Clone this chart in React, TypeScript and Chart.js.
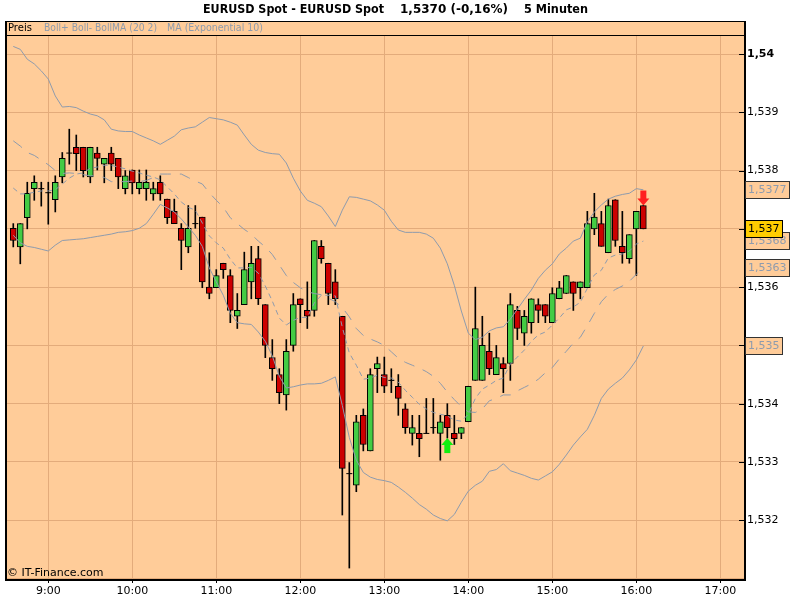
import React, { useEffect, useRef } from "react";
import { Chart, registerables } from "chart.js";

Chart.register(...registerables);

// ---------- data ----------
const times = [
  "8:35", "8:40", "8:45", "8:50", "8:55",
  "9:00", "9:05", "9:10", "9:15", "9:20", "9:25", "9:30", "9:35", "9:40", "9:45", "9:50", "9:55",
  "10:00", "10:05", "10:10", "10:15", "10:20", "10:25", "10:30", "10:35", "10:40", "10:45", "10:50", "10:55",
  "11:00", "11:05", "11:10", "11:15", "11:20", "11:25", "11:30", "11:35", "11:40", "11:45", "11:50", "11:55",
  "12:00", "12:05", "12:10", "12:15", "12:20", "12:25", "12:30", "12:35", "12:40", "12:45", "12:50", "12:55",
  "13:00", "13:05", "13:10", "13:15", "13:20", "13:25", "13:30", "13:35", "13:40", "13:45", "13:50", "13:55",
  "14:00", "14:05", "14:10", "14:15", "14:20", "14:25", "14:30", "14:35", "14:40", "14:45", "14:50", "14:55",
  "15:00", "15:05", "15:10", "15:15", "15:20", "15:25", "15:30", "15:35", "15:40", "15:45", "15:50", "15:55",
  "16:00", "16:05",
];

const opens = [
  1.53701, 1.53669, 1.53719, 1.53769, 1.53769, 1.53762, 1.5375, 1.53789, 1.5383, 1.5384,
  1.5384, 1.53789, 1.5383, 1.53811, 1.5383, 1.53821, 1.53769, 1.53801, 1.53769, 1.53769,
  1.5376, 1.5378, 1.53751, 1.5373, 1.53701, 1.53669, 1.53709, 1.5372, 1.536, 1.53599,
  1.53641, 1.5362, 1.5355, 1.5357, 1.53609, 1.53649, 1.5357, 1.53479, 1.5345, 1.53415,
  1.535, 1.5358, 1.5356, 1.5356, 1.5367, 1.53641, 1.53609, 1.5355, 1.5328, 1.5326,
  1.5338, 1.53319, 1.5346, 1.5345, 1.5344, 1.5343, 1.53391, 1.53349, 1.53349, 1.53349,
  1.53359, 1.53349, 1.5338, 1.53349, 1.53349, 1.53369, 1.5344, 1.5344, 1.5349, 1.5345,
  1.53469, 1.53469, 1.5356, 1.53521, 1.53539, 1.5357, 1.5357, 1.53539, 1.5358, 1.53589,
  1.53609, 1.53599, 1.53599, 1.537, 1.53709, 1.53659, 1.5375, 1.5367, 1.53649, 1.537,
  1.5374,
];

const highs = [
  1.53709, 1.53709, 1.5378, 1.53791, 1.5378, 1.5378, 1.53791, 1.53831, 1.53871, 1.53861,
  1.5384, 1.5384, 1.5384, 1.53821, 1.5384, 1.53821, 1.538, 1.53801, 1.53801, 1.53801,
  1.5378, 1.53791, 1.53751, 1.53751, 1.53709, 1.5374, 1.5374, 1.5372, 1.53659, 1.5363,
  1.53641, 1.5363, 1.53589, 1.5366, 1.5367, 1.5367, 1.5357, 1.5351, 1.5346, 1.5351,
  1.53589, 1.5358, 1.53609, 1.5368, 1.5368, 1.53641, 1.5363, 1.5355, 1.53299, 1.5338,
  1.53391, 1.5346, 1.5348, 1.5348, 1.5346, 1.5345, 1.534, 1.5338, 1.5338, 1.53409,
  1.53409, 1.5338, 1.534, 1.5338, 1.53359, 1.5343, 1.536, 1.5355, 1.53521, 1.535,
  1.53479, 1.53589, 1.53567, 1.5356, 1.5358, 1.5358, 1.5357, 1.53599, 1.5361, 1.5362,
  1.53609, 1.53609, 1.5373, 1.53761, 1.5373, 1.53751, 1.5375, 1.5373, 1.5369, 1.5373,
  1.5374,
];

const lows = [
  1.53669, 1.5364, 1.537, 1.53749, 1.53739, 1.53708, 1.53729, 1.53779, 1.53811, 1.538,
  1.53789, 1.53779, 1.53801, 1.53779, 1.538, 1.53769, 1.5376, 1.5376, 1.5376, 1.53749,
  1.53749, 1.53749, 1.53709, 1.53709, 1.5363, 1.53659, 1.53701, 1.53599, 1.5358, 1.53599,
  1.53615, 1.53539, 1.53529, 1.5357, 1.5358, 1.5357, 1.53479, 1.5344, 1.534, 1.53389,
  1.5349, 1.53539, 1.53529, 1.5355, 1.53641, 1.5357, 1.5357, 1.53209, 1.53118, 1.53249,
  1.53319, 1.53319, 1.53419, 1.53419, 1.53419, 1.5338, 1.53349, 1.53329, 1.53309, 1.53349,
  1.53349, 1.53303, 1.53341, 1.5333, 1.5334, 1.53369, 1.5344, 1.5344, 1.5345, 1.5345,
  1.53419, 1.5344, 1.5351, 1.535, 1.53521, 1.53539, 1.53539, 1.53539, 1.5358, 1.53589,
  1.5356, 1.5358, 1.53599, 1.5369, 1.5367, 1.53659, 1.5367, 1.53641, 1.53641, 1.5362,
  1.537,
];

const closes = [
  1.5368, 1.53709, 1.53761, 1.5378, 1.53769, 1.53762, 1.5378, 1.53821, 1.5383, 1.53829,
  1.538, 1.5384, 1.53821, 1.53821, 1.53811, 1.53789, 1.53791, 1.53779, 1.5378, 1.5378,
  1.53769, 1.5376, 1.53719, 1.53709, 1.5368, 1.53701, 1.53709, 1.53609, 1.53589, 1.5362,
  1.5363, 1.5356, 1.5356, 1.5363, 1.53641, 1.5358, 1.535, 1.5346, 1.53419, 1.5349,
  1.5357, 1.5357, 1.5355, 1.5368, 1.53649, 1.53589, 1.5358, 1.53289, 1.5328, 1.53369,
  1.5333, 1.5345, 1.53469, 1.5343, 1.5344, 1.53409, 1.53359, 1.53359, 1.5334, 1.53349,
  1.53359, 1.53369, 1.53359, 1.5334, 1.53359, 1.5343, 1.53529, 1.535, 1.5346, 1.53479,
  1.5346, 1.5357, 1.53529, 1.5355, 1.5358, 1.5356, 1.5355, 1.53589, 1.53599, 1.5362,
  1.53589, 1.53609, 1.53709, 1.5372, 1.5367, 1.5374, 1.5368, 1.53659, 1.5369, 1.5373,
  1.537,
];

const bollUpper = [
  1.54013, 1.54008, 1.53991, 1.53983, 1.53971, 1.53957, 1.53928, 1.53909, 1.5391, 1.53908,
  1.53902, 1.53897, 1.53894, 1.53887, 1.53871, 1.53868, 1.53867, 1.53867, 1.53861, 1.53856,
  1.53851, 1.53845, 1.53852, 1.53859, 1.5387, 1.53873, 1.53875, 1.53883, 1.53891, 1.53889,
  1.53887, 1.53883, 1.53878, 1.53861, 1.53845, 1.53835, 1.53831, 1.53829, 1.53828, 1.53813,
  1.53787, 1.53765, 1.53749, 1.53744, 1.53738, 1.53722, 1.53704, 1.53732, 1.53755, 1.53754,
  1.53751, 1.53748, 1.53741, 1.53732, 1.53713, 1.53698, 1.53694, 1.53694, 1.53694, 1.53691,
  1.53684, 1.53667, 1.5364, 1.53603, 1.53559, 1.53521, 1.5351, 1.53514, 1.53525, 1.5353,
  1.53532, 1.53545, 1.53562, 1.53579, 1.53595, 1.53615, 1.53629, 1.5364, 1.53657, 1.53667,
  1.53679, 1.53684, 1.53712, 1.53729, 1.53741, 1.53751, 1.53756, 1.53759, 1.53761, 1.53769,
  1.53767,
];

const bollLower = [
  1.53689, 1.53676, 1.5367, 1.53668, 1.53665, 1.53662, 1.53672, 1.5368, 1.53681, 1.53682,
  1.53683, 1.53685, 1.53687, 1.53689, 1.53691, 1.53694, 1.53695, 1.53697, 1.53701, 1.53709,
  1.53725, 1.53742, 1.53736, 1.53729, 1.53717, 1.53703, 1.53689, 1.5367, 1.53633, 1.53609,
  1.53586, 1.53555, 1.53539, 1.53537, 1.53536, 1.53523, 1.53507, 1.53482, 1.53447, 1.53427,
  1.53429, 1.53432, 1.53434, 1.53434, 1.53435, 1.5344, 1.53446, 1.53397, 1.53342, 1.53303,
  1.53282, 1.53274, 1.5327, 1.53268, 1.53265, 1.53257, 1.53248, 1.53238, 1.53227, 1.53219,
  1.53209, 1.53203, 1.53199, 1.5321, 1.53231, 1.5325, 1.5326, 1.53267, 1.53284, 1.53287,
  1.53297, 1.53285, 1.53281, 1.53277, 1.53272, 1.53269, 1.53276, 1.53283, 1.53296, 1.53312,
  1.53329, 1.53343, 1.53356, 1.5338, 1.53409, 1.53425, 1.53435, 1.53444, 1.53458, 1.53475,
  1.53499,
];

const bollMA = [
  1.53851, 1.53842, 1.53831, 1.53826, 1.53818, 1.5381, 1.538, 1.53795, 1.53796, 1.53795,
  1.53793, 1.53791, 1.53791, 1.53788, 1.53781, 1.53781, 1.53781, 1.53782, 1.53781, 1.53783,
  1.53788, 1.53794, 1.53794, 1.53794, 1.53794, 1.53788, 1.53782, 1.53777, 1.53762, 1.53749,
  1.53737, 1.53719, 1.53709, 1.53699, 1.53691, 1.53679, 1.53669, 1.53656, 1.53638, 1.5362,
  1.53608, 1.53599, 1.53592, 1.53589, 1.53587, 1.53581, 1.53575, 1.53565, 1.53549, 1.53529,
  1.53517, 1.53511, 1.53506, 1.535, 1.53489, 1.53478, 1.53471, 1.53466, 1.53461, 1.53455,
  1.53447, 1.53435, 1.5342, 1.53407, 1.53395, 1.53386, 1.53385, 1.53391, 1.53405, 1.53409,
  1.53415, 1.53415, 1.53422, 1.53428, 1.53434, 1.53442, 1.53453, 1.53462, 1.53477, 1.5349,
  1.53504, 1.53514, 1.53534, 1.53555, 1.53575, 1.53588, 1.53596, 1.53602, 1.5361, 1.53622,
  1.53633,
];

const ema10 = [
  1.5377, 1.5376, 1.5376, 1.53763, 1.53765, 1.53765, 1.53767, 1.53777, 1.53787, 1.53794,
  1.53796, 1.53804, 1.53806, 1.53809, 1.53809, 1.53806, 1.53803, 1.53799, 1.53796, 1.53792,
  1.53789, 1.53784, 1.53772, 1.5376, 1.53746, 1.53737, 1.53732, 1.5371, 1.53688, 1.53676,
  1.53667, 1.53648, 1.53633, 1.53633, 1.53634, 1.53624, 1.53602, 1.53576, 1.53547, 1.53535,
  1.53543, 1.53548, 1.53548, 1.53573, 1.53586, 1.53586, 1.53585, 1.53531, 1.53487, 1.53466,
  1.53442, 1.53444, 1.53449, 1.53445, 1.53444, 1.53437, 1.53423, 1.53411, 1.53399, 1.53391,
  1.53385, 1.53382, 1.53379, 1.53372, 1.5337, 1.53382, 1.53409, 1.53425, 1.53432, 1.5344,
  1.53444, 1.53468, 1.5348, 1.53492, 1.53507, 1.53518, 1.53523, 1.53535, 1.53547, 1.53561,
  1.53566, 1.53574, 1.53598, 1.53621, 1.53629, 1.5365, 1.53655, 1.53657, 1.53662, 1.53674,
  1.53679,
];

const buySignals = ["13:45"];
const sellSignals = ["16:05"];

const titleParts = ["EURUSD Spot - EURUSD Spot", "1,5370 (-0,16%)", "5 Minuten"];
const legendParts = ["Preis", "Boll+ Boll- BollMA (20 2)", "MA (Exponential 10)"];
const copyright = "\u00A9 IT-Finance.com";

// ---------- styling ----------
const FONT = "'DejaVu Sans', sans-serif";
const PEACH = "#FFCC99";
const GRID = "#E3AB7B";
const LINE_GRAY = "#8E9BAD";
const UP = "#44CC44";
const DOWN = "#CC0000";

const toMin = (t: string) => {
  const [h, m] = t.split(":").map(Number);
  return h * 60 + m;
};
const fmtTime = (v: number) => `${Math.floor(v / 60)}:${String(Math.round(v % 60)).padStart(2, "0")}`;
const fmtPrice = (v: number, d: number) =>
  v.toFixed(d).replace(/0+$/, "").replace(/\.$/, "").replace(".", ",");

export default function App() {
  const ref = useRef<HTMLCanvasElement>(null);

  useEffect(() => {
    const canvas = ref.current;
    if (!canvas) return;
    const xs = times.map(toMin);
    const n = times.length;
    const isDoji = (i: number) => opens[i] === closes[i];

    const bodyIdx = xs.map((_, i) => i).filter((i) => !isDoji(i));
    const bodyData = bodyIdx.map((i) => ({ x: xs[i], y: [opens[i], closes[i]] }));
    const bodyColors = bodyIdx.map((i) => (closes[i] > opens[i] ? UP : DOWN));
    const dojiData = xs.map((_, i) => i).filter(isDoji).map((i) => ({ x: xs[i], y: opens[i] }));
    const wickData = xs.map((x, i) => ({ x, y: [lows[i], highs[i]] }));
    const series = (arr: number[]) => xs.map((x, i) => ({ x, y: arr[i] }));

    const decor = {
      id: "decor",
      beforeDraw(chart: any) {
        const { ctx, chartArea: a } = chart;
        ctx.save();
        ctx.fillStyle = "#ffffff";
        ctx.fillRect(0, 0, chart.width, chart.height);
        ctx.fillStyle = PEACH;
        ctx.fillRect(a.left, 21, a.right - a.left, a.bottom - 21);
        ctx.restore();
      },
      afterDraw(chart: any) {
        const { ctx, chartArea: a, scales } = chart;
        const xS = scales.x;
        const yS = scales.y;
        ctx.save();
        // frame
        ctx.fillStyle = "#000";
        ctx.fillRect(a.left - 1, 21, 2, a.bottom - 21);
        ctx.fillRect(a.left - 1, 21, a.right - a.left + 1, 1);
        ctx.fillRect(a.left, 35, a.right - a.left, 1);
        ctx.fillRect(a.right - 1, 21, 2, 15);
        // inward y tick marks
        yS.ticks.forEach((t: any) => {
          if (t.value < yS.min + 0.0005) return;
          const y = Math.round(yS.getPixelForValue(t.value));
          ctx.fillRect(a.right - 6, y, 6, 1);
        });

        // title
        ctx.textBaseline = "middle";
        ctx.textAlign = "left";
        ctx.fillStyle = "#000";
        ctx.font = `bold 12px ${FONT}`;
        ctx.fillText(titleParts[0], 203, 10, 181);
        ctx.fillText(titleParts[1], 400, 10, 108);
        ctx.fillText(titleParts[2], 524, 10, 64);

        // legend row
        ctx.font = `10px ${FONT}`;
        ctx.fillStyle = "#000";
        ctx.fillText(legendParts[0], 8, 28.5, 25);
        ctx.fillStyle = LINE_GRAY;
        ctx.fillText(legendParts[1], 44, 28.5, 113);
        ctx.fillText(legendParts[2], 167, 28.5, 96);

        // copyright
        ctx.fillStyle = "#000";
        ctx.font = `11px ${FONT}`;
        ctx.fillText(copyright, 7, 573, 99);

        // signal arrows
        buySignals.forEach((t) => {
          const i = times.indexOf(t);
          if (i < 0) return;
          const x = xS.getPixelForValue(xs[i]);
          const tip = yS.getPixelForValue(lows[i]);
          ctx.fillStyle = "#11EE11";
          ctx.beginPath();
          ctx.moveTo(x, tip);
          ctx.lineTo(x + 6, tip + 7);
          ctx.lineTo(x - 6, tip + 7);
          ctx.closePath();
          ctx.fill();
          ctx.fillRect(x - 3, tip + 6, 6, 9);
        });
        sellSignals.forEach((t) => {
          const i = times.indexOf(t);
          if (i < 0) return;
          const x = xS.getPixelForValue(xs[i]);
          const tip = yS.getPixelForValue(highs[i]);
          ctx.fillStyle = "#FF2020";
          ctx.beginPath();
          ctx.moveTo(x, tip);
          ctx.lineTo(x + 6, tip - 7);
          ctx.lineTo(x - 6, tip - 7);
          ctx.closePath();
          ctx.fill();
          ctx.fillRect(x - 3, tip - 15, 6, 9);
        });

        // last-value boxes on the right axis
        ctx.font = `11px ${FONT}`;
        const box = (v: number, fill: string, text: string, stroke: string) => {
          const label = fmtPrice(v, 4);
          const y = Math.round(yS.getPixelForValue(v));
          const w = Math.ceil(ctx.measureText(label).width) + 6;
          ctx.fillStyle = fill;
          ctx.fillRect(a.right, y - 9, w, 18);
          ctx.strokeStyle = stroke;
          ctx.lineWidth = 1;
          ctx.strokeRect(a.right + 0.5, y - 8.5, w - 1, 17);
          ctx.fillStyle = text;
          ctx.fillText(label, a.right + 3, y + 0.5);
        };
        box(bollUpper[n - 1], PEACH, LINE_GRAY, "#333");
        box(bollMA[n - 1], PEACH, LINE_GRAY, "#333");
        box(bollLower[n - 1], PEACH, LINE_GRAY, "#333");
        box(ema10[n - 1], PEACH, LINE_GRAY, "#333");
        box(closes[n - 1], "#FFCC00", "#000", "#000");
        ctx.restore();
      },
    };

    const chart = new Chart(canvas, {
      type: "bar",
      data: {
        datasets: [
          {
            type: "line",
            label: "Boll+",
            data: series(bollUpper),
            borderColor: LINE_GRAY,
            borderWidth: 1,
            pointRadius: 0,
            tension: 0,
            fill: false,
            order: 0,
          },
          {
            type: "line",
            label: "Boll-",
            data: series(bollLower),
            borderColor: LINE_GRAY,
            borderWidth: 1,
            pointRadius: 0,
            tension: 0,
            fill: false,
            order: 0,
          },
          {
            type: "line",
            label: "BollMA",
            data: series(bollMA),
            borderColor: LINE_GRAY,
            borderWidth: 1,
            borderDash: [11, 9],
            pointRadius: 0,
            tension: 0,
            fill: false,
            order: 0,
          },
          {
            type: "line",
            label: "EMA10",
            data: series(ema10),
            borderColor: LINE_GRAY,
            borderWidth: 1,
            borderDash: [5, 4],
            pointRadius: 0,
            tension: 0,
            fill: false,
            order: 0,
          },
          {
            type: "scatter",
            label: "doji",
            data: dojiData,
            pointStyle: "line",
            pointRadius: 3,
            borderColor: "#000",
            borderWidth: 1,
            order: 1,
          },
          {
            type: "bar",
            label: "body",
            data: bodyData,
            backgroundColor: bodyColors,
            borderColor: "#000",
            borderWidth: 1,
            borderSkipped: false,
            barThickness: 6,
            grouped: false,
            order: 2,
          },
          {
            type: "bar",
            label: "wick",
            data: wickData,
            backgroundColor: "#000",
            borderWidth: 0,
            barThickness: 1,
            grouped: false,
            order: 3,
          },
        ] as any,
      },
      options: {
        animation: false,
        responsive: false,
        maintainAspectRatio: false,
        events: [],
        layout: { padding: { left: 6, top: 35, right: 0, bottom: 0 } },
        plugins: {
          legend: { display: false },
          tooltip: { enabled: false },
          title: { display: false },
        },
        scales: {
          x: {
            type: "linear",
            min: 509.8,
            max: 1037.6,
            offset: false,
            grid: { color: GRID, lineWidth: 1, offset: false, drawTicks: true, tickLength: 3, tickColor: "#000" },
            border: { display: true, color: "#000", width: 2 },
            ticks: {
              stepSize: 60,
              includeBounds: false,
              autoSkip: false,
              maxRotation: 0,
              padding: 2,
              color: "#000",
              font: { family: FONT, size: 11 },
              callback: (v: any) => fmtTime(Number(v)),
            },
            afterFit: (s: any) => {
              s.height = 20;
            },
          },
          y: {
            type: "linear",
            position: "right",
            min: 1.530975,
            max: 1.540326,
            grid: { color: GRID, lineWidth: 1, drawTicks: false },
            border: { display: true, color: "#000", width: 2 },
            ticks: {
              stepSize: 0.001,
              includeBounds: false,
              autoSkip: false,
              padding: 2,
              color: "#000",
              font: (c: any) => ({
                family: FONT,
                size: 11,
                weight: c.tick && Math.abs(c.tick.value - 1.54) < 1e-7 ? "bold" : "normal",
              }),
              callback: (v: any) => (Number(v) < 1.5315 ? "" : fmtPrice(Number(v), 3)),
            },
            afterFit: (s: any) => {
              s.width = 55;
            },
          },
        },
      } as any,
      plugins: [decor],
    });

    return () => chart.destroy();
  }, []);

  return (
    <div style={{ position: "fixed", left: 0, top: 0, width: 800, height: 600, background: "#fff" }}>
      <canvas ref={ref} width={800} height={600} style={{ display: "block", width: 800, height: 600 }} />
    </div>
  );
}
